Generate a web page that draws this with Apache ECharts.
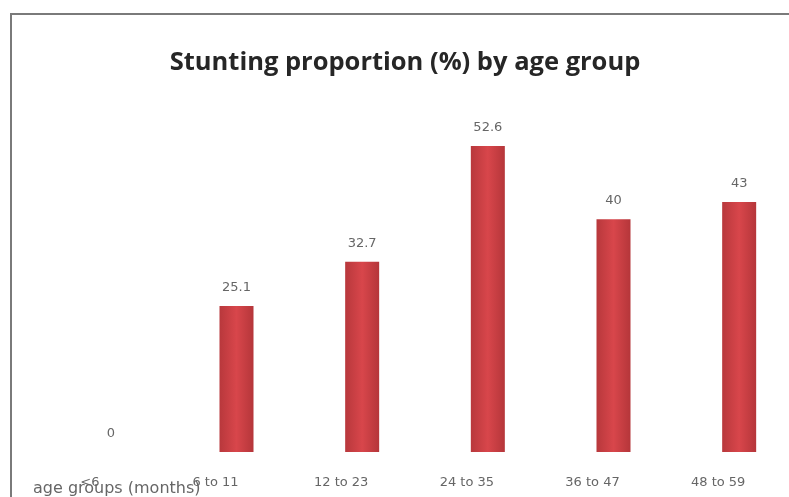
<!DOCTYPE html>
<html><head><meta charset="utf-8">
<script src="https://cdn.jsdelivr.net/npm/echarts@6/dist/echarts.min.js"></script>
<style>html,body{margin:0;padding:0;background:#fff;overflow:hidden}#c{width:803px;height:497px}</style>
</head><body><div id="c"></div>
<script>
const categories = ['<6', '6 to 11', '12 to 23', '24 to 35', '36 to 47', '48 to 59'];
const stunting = [0, 25.1, 32.7, 52.6, 40, 43];
const titleText = 'Stunting proportion (%) by age group';
const axisNameText = 'age groups (months)';

const chart = echarts.init(document.getElementById('c'));
chart.setOption({
  backgroundColor: '#ffffff',
  animation: false,
  title: {
    text: titleText, left: 400, top: 45, textAlign: 'center',
    textStyle: { fontFamily: 'Open Sans', fontWeight: 'bold', fontSize: 25.5, color: '#262626' }
  },
  grid: { left: 48, right: 1, top: 103, bottom: 45, containLabel: false },
  xAxis: {
    type: 'category', data: categories,
    axisLine: { show: false }, axisTick: { show: false },
    axisLabel: { margin: 24, padding: [0, 42, 0, 0], fontFamily: 'DejaVu Sans', fontSize: 13, color: '#666' }
  },
  yAxis: { type: 'value', min: 0, max: 60, show: false, splitLine: { show: false } },
  series: [{
    type: 'bar', data: stunting, barWidth: 34,
    itemStyle: {
      color: new echarts.graphic.LinearGradient(0, 0, 1, 0, [
        { offset: 0, color: '#b8383c' }, { offset: 0.5, color: '#d8464b' }, { offset: 1, color: '#b5363a' }
      ])
    },
    label: { show: true, position: 'top', distance: 12, fontFamily: 'DejaVu Sans', fontSize: 13, color: '#666' }
  }],
  graphic: [
    { type: 'line', shape: { x1: 11, y1: 14, x2: 11, y2: 497 }, style: { stroke: '#7a7a7a', lineWidth: 2 } },
    { type: 'line', shape: { x1: 10, y1: 14, x2: 803, y2: 14 }, style: { stroke: '#7a7a7a', lineWidth: 2 } },
    { type: 'text', left: 33, top: 481, style: { text: axisNameText, fontFamily: 'DejaVu Sans', fontSize: 16, fill: '#666' } }
  ]
});
</script></body></html>
